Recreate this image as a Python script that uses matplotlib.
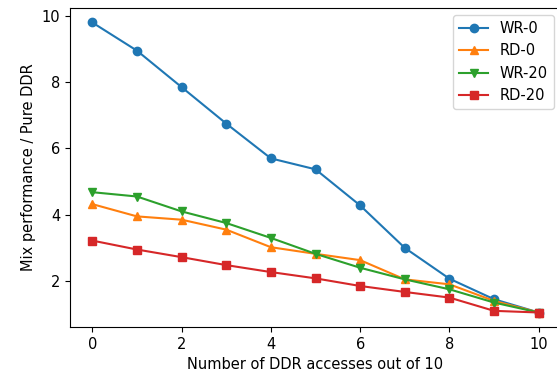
import numpy as np
import matplotlib
matplotlib.use('Agg')
import matplotlib.pyplot as plt

plt.rcParams['font.size'] = 10.5

x = list(range(11))
wr0 = [9.8, 8.95, 7.85, 6.75, 5.7, 5.37, 4.28, 3.0, 2.07, 1.45, 1.05]
rd0 = [4.32, 3.95, 3.85, 3.55, 3.02, 2.82, 2.63, 2.05, 1.9, 1.4, 1.05]
wr20 = [4.68, 4.55, 4.1, 3.75, 3.3, 2.82, 2.4, 2.05, 1.75, 1.35, 1.05]
rd20 = [3.22, 2.95, 2.72, 2.48, 2.27, 2.08, 1.85, 1.67, 1.5, 1.1, 1.05]

fig = plt.figure(figsize=(5.57, 3.73), dpi=100)
# the original picture is cropped on the right, so the axes run past the edge
ax = fig.add_axes([70/557, 46/373, 491/557, 319/373])

ax.plot(x, wr0, marker='o', label='WR-0')
ax.plot(x, rd0, marker='^', label='RD-0')
ax.plot(x, wr20, marker='v', label='WR-20')
ax.plot(x, rd20, marker='s', label='RD-20')

ax.set_xlabel('Number of DDR accesses out of 10')
ax.set_ylabel('Mix performance / Pure DDR')
ax.set_xticks([0, 2, 4, 6, 8, 10])
ax.set_yticks([2, 4, 6, 8, 10])
ax.legend(loc='upper right')

fig.savefig('out.png', dpi=100)
